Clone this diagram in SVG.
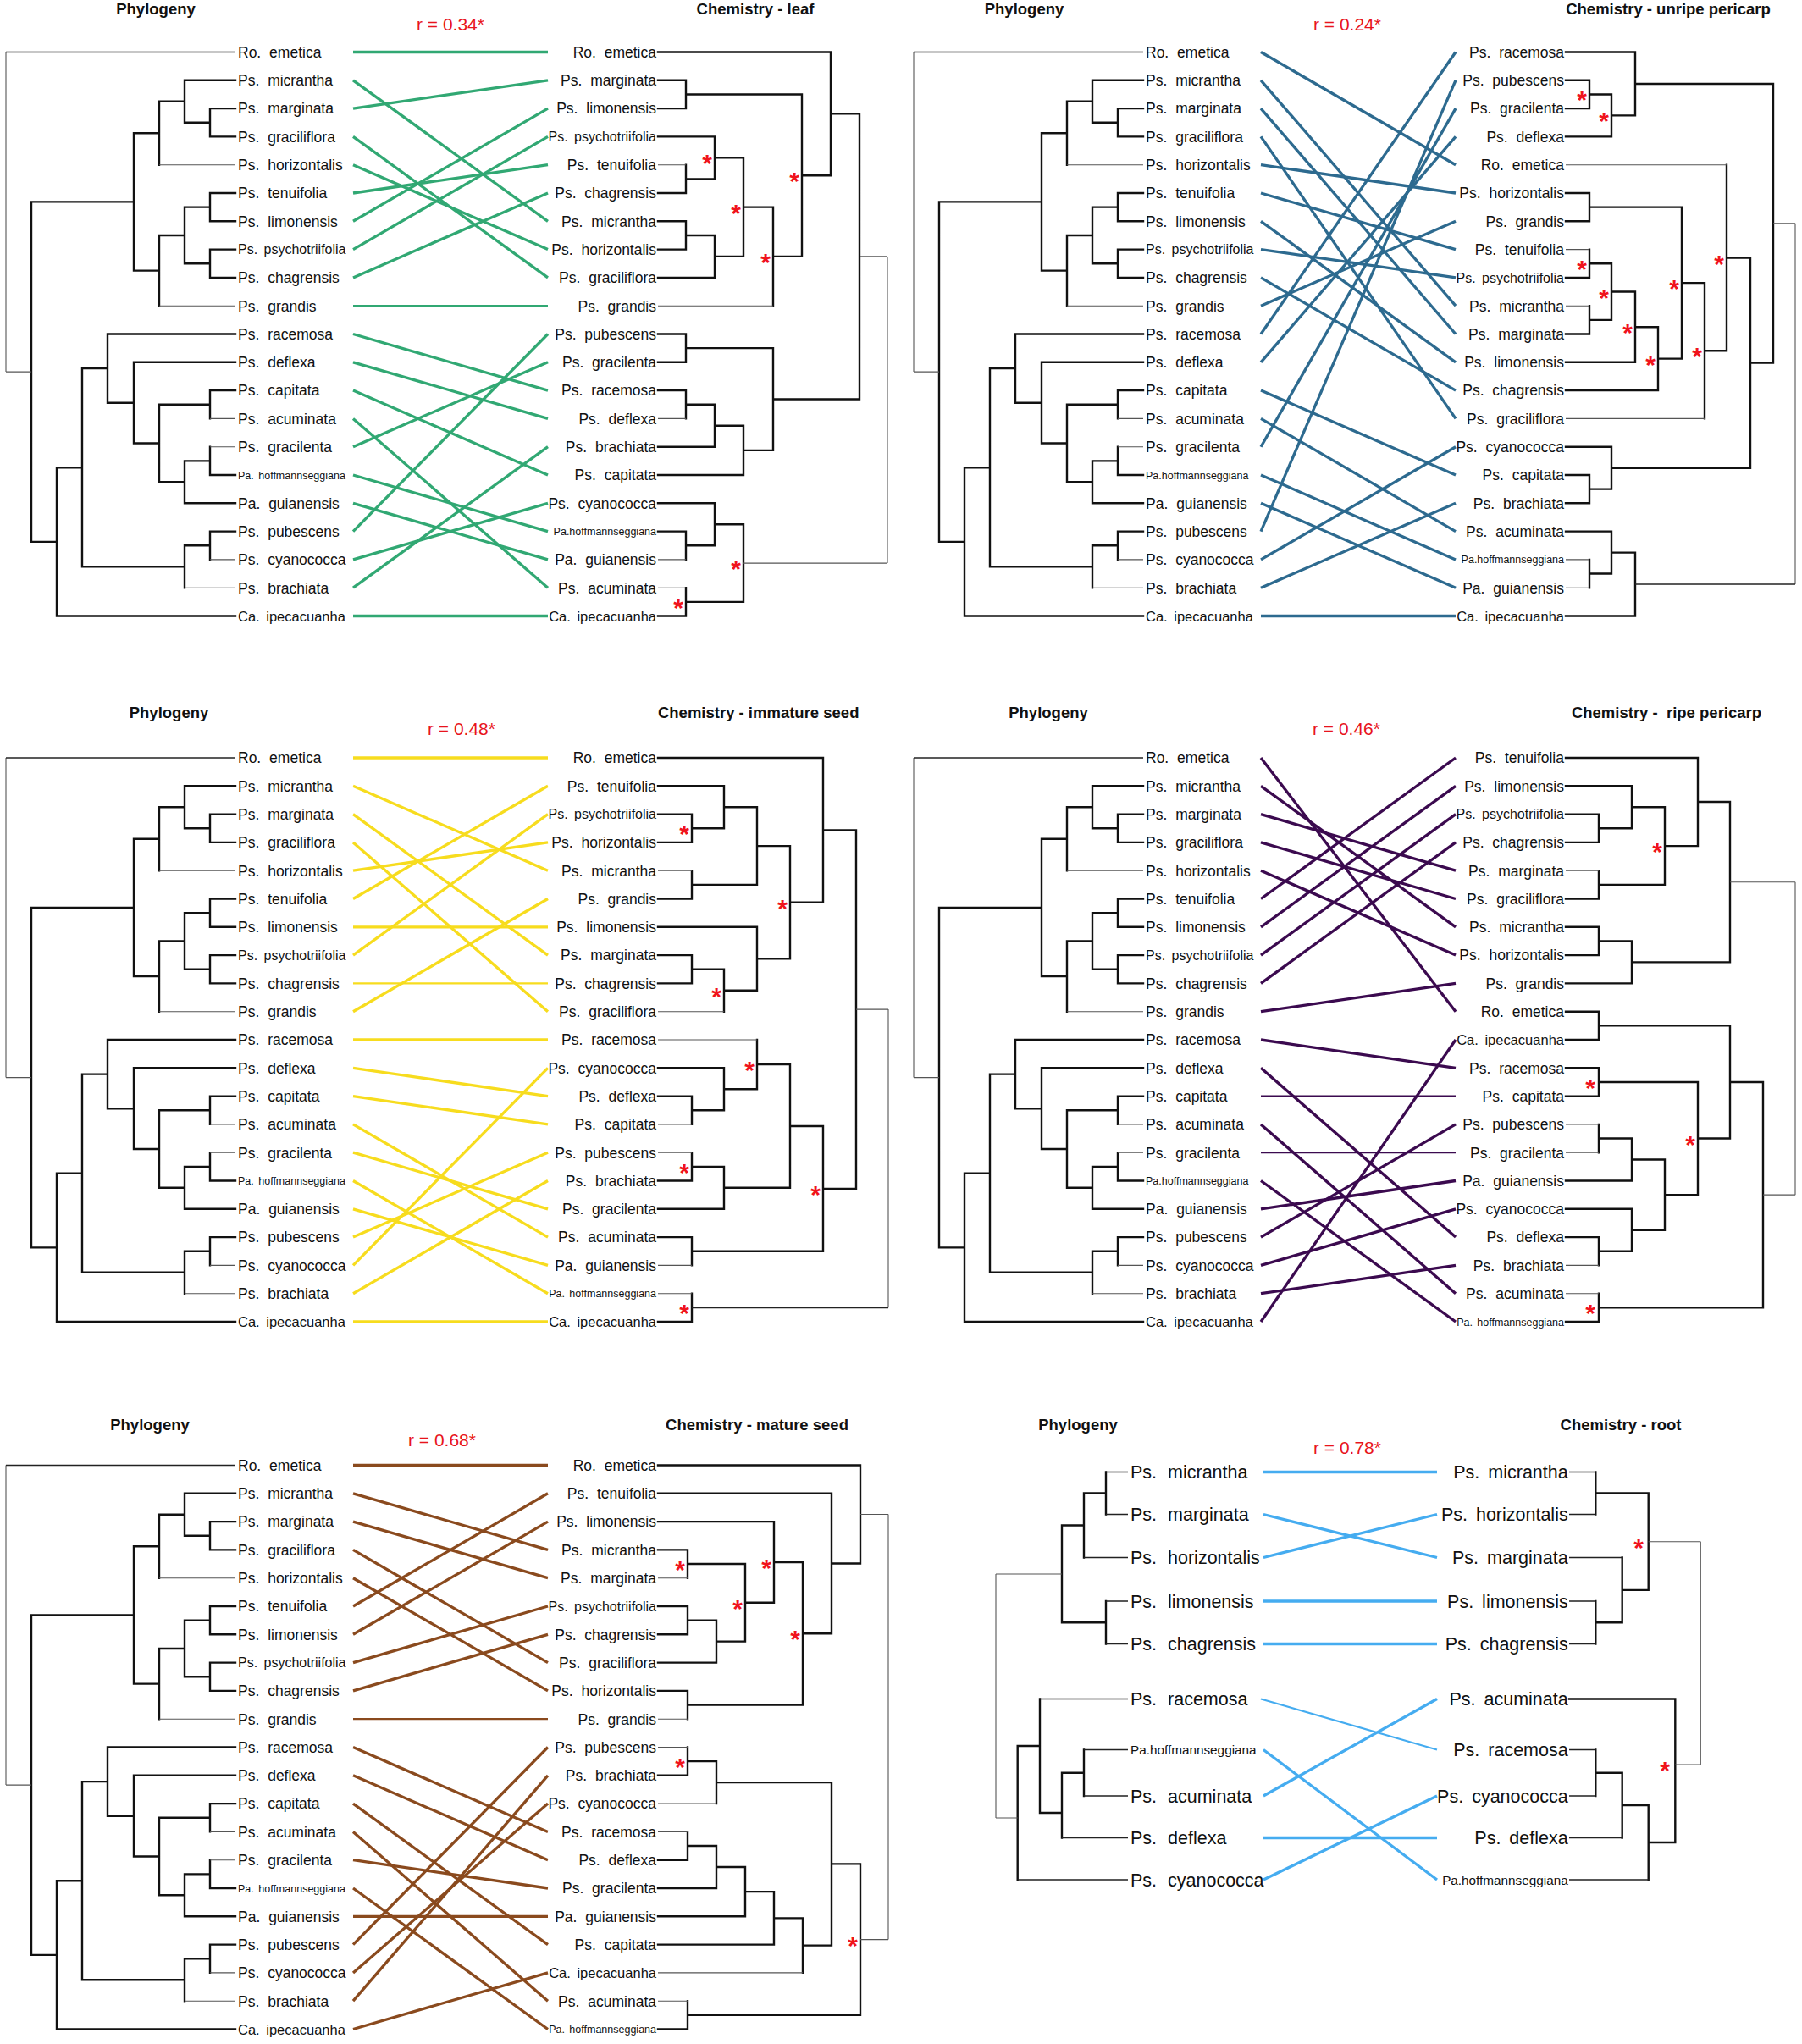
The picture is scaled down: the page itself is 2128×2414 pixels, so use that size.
<svg xmlns="http://www.w3.org/2000/svg" width="2128" height="2414" viewBox="0 0 2128 2414">
<style>
text{font-family:'Liberation Sans',Arial,Helvetica,sans-serif}
.t{font-size:17.5px;fill:#111;word-spacing:5px}
.s{font-size:16px;word-spacing:3px}
.h{font-size:12.5px;word-spacing:2px}
.k{font-size:16.5px;word-spacing:3px}
.e{text-anchor:end}
.t6{font-size:21.5px;fill:#111;word-spacing:7px}
.t6.e{word-spacing:4px}
.h6{font-size:15.3px}
.ttl{font-weight:bold;font-size:18.5px;text-anchor:middle;fill:#111}
.r{font-size:21px;fill:#e8141c;text-anchor:middle}
.st{font-weight:bold;font-size:30px;fill:#f0141c;text-anchor:middle}
.tk{fill:none;stroke:#111;stroke-width:2.4;stroke-linecap:square}
.md{fill:none;stroke:#222;stroke-width:1.7}
.tn{fill:none;stroke:#555;stroke-width:1.1}
.c{fill:none;stroke-width:3.3}
.c path.n{stroke-width:2.2}
</style>
<defs>
<g id="phylo">
<path class="tk" d="M37,238.4V639.85 M37,238.4H158 M158,157.2V319.6 M158,157.2H188 M188,119.8V194.7 M188,119.8H218 M218,94.8V144.75 M218,94.8H278 M218,144.75H248 M248,128.1V161.4 M248,128.1H278 M248,161.4H278 M158,319.6H188 M188,277.95V361.2 M188,277.95H218 M218,244.65V311.25 M218,244.65H248 M248,228V261.3 M248,228H278 M248,261.3H278 M218,311.25H248 M248,294.6V327.9 M248,294.6H278 M248,327.9H278 M37,639.85H67 M67,552.2V727.5 M67,727.5H278 M67,552.2H97 M97,435.1V669.2 M97,669.2H218 M218,644.25V694.2 M218,644.25H248 M248,627.6V660.9 M248,627.6H278 M97,435.1H127 M127,394.5V475.7 M127,394.5H278 M127,475.7H158 M158,427.8V523.5 M158,427.8H278 M158,523.5H188 M188,477.75V569.3 M188,477.75H248 M248,461.1V494.4 M248,461.1H278 M188,569.3H218 M218,544.35V594.3 M218,544.35H248 M248,527.7V561 M248,561H278 M218,594.3H278"/>
<path class="tn" d="M7,61.5V439.1 M7,439.1H37 M188,194.7H278 M188,361.2H278 M248,494.4H278 M248,527.7H278 M248,660.9H278 M218,694.2H278"/>
<path class="md" d="M7,61.5H278"/>
</g>
</defs>
<rect width="2128" height="2414" fill="#fff"/>

<!-- Panel 1: leaf -->
<g id="panel-leaf">
<text class="ttl" x="184" y="16.5">Phylogeny</text>
<text class="r" x="532" y="36">r = 0.34*</text>
<text class="ttl" x="892" y="16.5">Chemistry - leaf</text>
<use href="#phylo"/>
<g id="leaf-phylo-tips" class="t">
<text x="281" y="67.8">Ro. emetica</text>
<text x="281" y="101.1">Ps. micrantha</text>
<text x="281" y="134.4">Ps. marginata</text>
<text x="281" y="167.7">Ps. graciliflora</text>
<text x="281" y="201">Ps. horizontalis</text>
<text x="281" y="234.3">Ps. tenuifolia</text>
<text x="281" y="267.6">Ps. limonensis</text>
<text x="281" y="300.4" class="s">Ps. psychotriifolia</text>
<text x="281" y="334.2">Ps. chagrensis</text>
<text x="281" y="367.5">Ps. grandis</text>
<text x="281" y="400.8">Ps. racemosa</text>
<text x="281" y="434.1">Ps. deflexa</text>
<text x="281" y="467.4">Ps. capitata</text>
<text x="281" y="500.7">Ps. acuminata</text>
<text x="281" y="534">Ps. gracilenta</text>
<text x="281" y="565.5" class="h">Pa. hoffmannseggiana</text>
<text x="281" y="600.6">Pa. guianensis</text>
<text x="281" y="633.9">Ps. pubescens</text>
<text x="281" y="667.2">Ps. cyanococca</text>
<text x="281" y="700.5">Ps. brachiata</text>
<text x="281" y="733.5" class="k">Ca. ipecacuanha</text>
</g>
<g id="leaf-connectors" class="c" stroke="#31a873">
<path d="M417 61.5L647 61.5"/><path d="M417 94.8L647 261.3"/><path d="M417 128.1L647 94.8"/><path d="M417 161.4L647 327.9"/><path d="M417 194.7L647 294.6"/><path d="M417 228L647 194.7"/><path d="M417 261.3L647 128.1"/><path d="M417 294.6L647 161.4"/><path d="M417 327.9L647 228"/><path class="n" d="M417 361.2L647 361.2"/><path d="M417 394.5L647 461.1"/><path d="M417 427.8L647 494.4"/><path d="M417 461.1L647 561"/><path d="M417 494.4L647 694.2"/><path d="M417 527.7L647 427.8"/><path d="M417 561L647 627.6"/><path d="M417 594.3L647 660.9"/><path d="M417 627.6L647 394.5"/><path d="M417 660.9L647 594.3"/><path d="M417 694.2L647 527.7"/><path d="M417 727.5L647 727.5"/>
</g>
<g id="leaf-chem-tree">
<path class="tk" d="M777,94.8H810 M777,128.1H810 M810,94.8V128.1 M810,111.45H947 M777,161.4H844 M777,228H810 M810,194.7V228 M810,211.35H844 M844,161.4V211.35 M844,186.4H878 M777,261.3H810 M777,294.6H810 M810,261.3V294.6 M810,277.95H844 M777,327.9H844 M844,277.95V327.9 M844,302.9H878 M878,186.4V302.9 M878,244.65H913 M913,244.65V361.2 M913,302.9H947 M947,111.45V302.9 M947,207.2H981 M777,61.5H981 M981,61.5V207.2 M981,134.35H1015 M1015,134.35V471.5 M777,394.5H810 M777,427.8H810 M810,394.5V427.8 M810,411.15H913 M777,461.1H810 M810,461.1V494.4 M810,477.75H844 M777,527.7H844 M844,477.75V527.7 M844,502.7H878 M777,561H878 M878,502.7V561 M878,531.85H913 M913,411.15V531.85 M913,471.5H1015 M777,594.3H844 M777,627.6H810 M810,627.6V660.9 M810,644.25H844 M844,594.3V644.25 M844,619.3H878 M777,727.5H810 M810,694.2V727.5 M810,710.85H878 M878,619.3V710.85"/>
<path class="tn" d="M777,194.7H810 M777,361.2H913 M777,494.4H810 M777,660.9H810 M777,694.2H810 M1015,302.9H1048 M1048,302.9V665.1 M878,665.1H1048"/>
<g class="t e">
<text x="775" y="67.8">Ro. emetica</text>
<text x="775" y="101.1">Ps. marginata</text>
<text x="775" y="134.4">Ps. limonensis</text>
<text x="775" y="167.2" class="s">Ps. psychotriifolia</text>
<text x="775" y="201">Ps. tenuifolia</text>
<text x="775" y="234.3">Ps. chagrensis</text>
<text x="775" y="267.6">Ps. micrantha</text>
<text x="775" y="300.9">Ps. horizontalis</text>
<text x="775" y="334.2">Ps. graciliflora</text>
<text x="775" y="367.5">Ps. grandis</text>
<text x="775" y="400.8">Ps. pubescens</text>
<text x="775" y="434.1">Ps. gracilenta</text>
<text x="775" y="467.4">Ps. racemosa</text>
<text x="775" y="500.7">Ps. deflexa</text>
<text x="775" y="534">Ps. brachiata</text>
<text x="775" y="567.3">Ps. capitata</text>
<text x="775" y="600.6">Ps. cyanococca</text>
<text x="775" y="632.1" class="h">Pa.hoffmannseggiana</text>
<text x="775" y="667.2">Pa. guianensis</text>
<text x="775" y="700.5">Ps. acuminata</text>
<text x="775" y="733.5" class="k">Ca. ipecacuanha</text>
</g>
<g class="st"><text x="835" y="203.4">*</text><text x="869" y="261.65">*</text><text x="938" y="224.2">*</text><text x="904" y="319.9">*</text><text x="801" y="727.85">*</text><text x="869" y="682.1">*</text></g>
</g>
</g>

<!-- Panel 2: unripe pericarp -->
<g id="panel-unripe-pericarp" transform="translate(1072,0)">
<text class="ttl" x="137.5" y="16.5">Phylogeny</text>
<text class="r" x="519" y="36">r = 0.24*</text>
<text class="ttl" x="898" y="16.5">Chemistry - unripe pericarp</text>
<use href="#phylo"/>
<g id="unripe-phylo-tips" class="t">
<text x="281" y="67.8">Ro. emetica</text>
<text x="281" y="101.1">Ps. micrantha</text>
<text x="281" y="134.4">Ps. marginata</text>
<text x="281" y="167.7">Ps. graciliflora</text>
<text x="281" y="201">Ps. horizontalis</text>
<text x="281" y="234.3">Ps. tenuifolia</text>
<text x="281" y="267.6">Ps. limonensis</text>
<text x="281" y="300.4" class="s">Ps. psychotriifolia</text>
<text x="281" y="334.2">Ps. chagrensis</text>
<text x="281" y="367.5">Ps. grandis</text>
<text x="281" y="400.8">Ps. racemosa</text>
<text x="281" y="434.1">Ps. deflexa</text>
<text x="281" y="467.4">Ps. capitata</text>
<text x="281" y="500.7">Ps. acuminata</text>
<text x="281" y="534">Ps. gracilenta</text>
<text x="281" y="565.5" class="h">Pa.hoffmannseggiana</text>
<text x="281" y="600.6">Pa. guianensis</text>
<text x="281" y="633.9">Ps. pubescens</text>
<text x="281" y="667.2">Ps. cyanococca</text>
<text x="281" y="700.5">Ps. brachiata</text>
<text x="281" y="733.5" class="k">Ca. ipecacuanha</text>
</g>
<g id="unripe-connectors" class="c" stroke="#2d6a8f">
<path d="M417 61.5L647 194.7"/><path d="M417 94.8L647 361.2"/><path d="M417 128.1L647 394.5"/><path d="M417 161.4L647 494.4"/><path d="M417 194.7L647 228"/><path d="M417 228L647 294.6"/><path d="M417 261.3L647 427.8"/><path d="M417 294.6L647 327.9"/><path d="M417 327.9L647 461.1"/><path d="M417 361.2L647 261.3"/><path d="M417 394.5L647 61.5"/><path d="M417 427.8L647 161.4"/><path d="M417 461.1L647 561"/><path d="M417 494.4L647 627.6"/><path d="M417 527.7L647 128.1"/><path d="M417 561L647 660.9"/><path d="M417 594.3L647 694.2"/><path d="M417 627.6L647 94.8"/><path d="M417 660.9L647 527.7"/><path d="M417 694.2L647 594.3"/><path d="M417 727.5L647 727.5"/>
</g>
<g id="unripe-chem-tree">
<path class="tk" d="M777,94.8H805 M777,128.1H805 M805,94.8V128.1 M805,111.45H831 M777,161.4H831 M831,111.45V161.4 M831,136.4H859 M777,61.5H859 M859,61.5V136.4 M859,98.95H1022 M777,228H805 M777,261.3H805 M805,228V261.3 M805,244.65H914 M777,327.9H805 M805,294.6V327.9 M805,311.25H831 M777,394.5H805 M805,361.2V394.5 M805,377.85H831 M831,311.25V377.85 M831,344.55H859 M777,427.8H859 M859,344.55V427.8 M859,386.2H886 M777,461.1H886 M886,386.2V461.1 M886,423.65H914 M914,244.65V423.65 M914,334.15H941 M941,334.15V494.4 M941,414.3H967 M967,194.7V414.3 M967,304.5H995 M777,527.7H831 M777,561H805 M777,594.3H805 M805,561V594.3 M805,577.65H831 M831,527.7V577.65 M831,552.7H995 M995,304.5V552.7 M995,428.6H1022 M1022,98.95V428.6 M777,627.6H831 M805,660.9V694.2 M805,677.55H831 M831,627.6V677.55 M831,652.6H859 M777,727.5H859 M859,652.6V727.5"/>
<path class="tn" d="M777,294.6H805 M777,361.2H805 M777,494.4H941 M777,194.7H967 M777,660.9H805 M777,694.2H805 M1022,263.8H1048 M1048,263.8V690"/>
<path class="md" d="M859,690H1048"/>
<g class="t e">
<text x="775" y="67.8">Ps. racemosa</text>
<text x="775" y="101.1">Ps. pubescens</text>
<text x="775" y="134.4">Ps. gracilenta</text>
<text x="775" y="167.7">Ps. deflexa</text>
<text x="775" y="201">Ro. emetica</text>
<text x="775" y="234.3">Ps. horizontalis</text>
<text x="775" y="267.6">Ps. grandis</text>
<text x="775" y="300.9">Ps. tenuifolia</text>
<text x="775" y="333.7" class="s">Ps. psychotriifolia</text>
<text x="775" y="367.5">Ps. micrantha</text>
<text x="775" y="400.8">Ps. marginata</text>
<text x="775" y="434.1">Ps. limonensis</text>
<text x="775" y="467.4">Ps. chagrensis</text>
<text x="775" y="500.7">Ps. graciliflora</text>
<text x="775" y="534">Ps. cyanococca</text>
<text x="775" y="567.3">Ps. capitata</text>
<text x="775" y="600.6">Ps. brachiata</text>
<text x="775" y="633.9">Ps. acuminata</text>
<text x="775" y="665.4" class="h">Pa.hoffmannseggiana</text>
<text x="775" y="700.5">Pa. guianensis</text>
<text x="775" y="733.5" class="k">Ca. ipecacuanha</text>
</g>
<g class="st"><text x="796" y="128.45">*</text><text x="822" y="153.4">*</text><text x="796" y="328.25">*</text><text x="822" y="361.55">*</text><text x="850" y="403.2">*</text><text x="877" y="440.65">*</text><text x="905" y="351.15">*</text><text x="932" y="431.3">*</text><text x="958" y="321.5">*</text></g>
</g>
</g>

<!-- Panel 3: immature seed -->
<g id="panel-immature-seed" transform="translate(0,833.5)">
<text class="ttl" x="199.5" y="14.5">Phylogeny</text>
<text class="r" x="545" y="34.5">r = 0.48*</text>
<text class="ttl" x="895.7" y="14.5">Chemistry - immature seed</text>
<use href="#phylo"/>
<g id="immature-phylo-tips" class="t">
<text x="281" y="67.8">Ro. emetica</text>
<text x="281" y="101.1">Ps. micrantha</text>
<text x="281" y="134.4">Ps. marginata</text>
<text x="281" y="167.7">Ps. graciliflora</text>
<text x="281" y="201">Ps. horizontalis</text>
<text x="281" y="234.3">Ps. tenuifolia</text>
<text x="281" y="267.6">Ps. limonensis</text>
<text x="281" y="300.4" class="s">Ps. psychotriifolia</text>
<text x="281" y="334.2">Ps. chagrensis</text>
<text x="281" y="367.5">Ps. grandis</text>
<text x="281" y="400.8">Ps. racemosa</text>
<text x="281" y="434.1">Ps. deflexa</text>
<text x="281" y="467.4">Ps. capitata</text>
<text x="281" y="500.7">Ps. acuminata</text>
<text x="281" y="534">Ps. gracilenta</text>
<text x="281" y="565.5" class="h">Pa. hoffmannseggiana</text>
<text x="281" y="600.6">Pa. guianensis</text>
<text x="281" y="633.9">Ps. pubescens</text>
<text x="281" y="667.2">Ps. cyanococca</text>
<text x="281" y="700.5">Ps. brachiata</text>
<text x="281" y="733.5" class="k">Ca. ipecacuanha</text>
</g>
<g id="immature-connectors" class="c" stroke="#f7dc1e">
<path d="M417 61.5L647 61.5"/><path d="M417 94.8L647 194.7"/><path d="M417 128.1L647 294.6"/><path d="M417 161.4L647 361.2"/><path d="M417 194.7L647 161.4"/><path d="M417 228L647 94.8"/><path d="M417 261.3L647 261.3"/><path d="M417 294.6L647 128.1"/><path class="n" d="M417 327.9L647 327.9"/><path d="M417 361.2L647 228"/><path d="M417 394.5L647 394.5"/><path d="M417 427.8L647 461.1"/><path d="M417 461.1L647 494.4"/><path d="M417 494.4L647 627.6"/><path d="M417 527.7L647 594.3"/><path d="M417 561L647 694.2"/><path d="M417 594.3L647 660.9"/><path d="M417 627.6L647 527.7"/><path d="M417 660.9L647 427.8"/><path d="M417 694.2L647 561"/><path d="M417 727.5L647 727.5"/>
</g>
<g id="immature-chem-tree">
<path class="tk" d="M777,128.1H817 M777,161.4H817 M817,128.1V161.4 M817,144.75H855 M777,94.8H855 M855,94.8V144.75 M855,119.8H894 M777,228H817 M817,194.7V228 M817,211.35H894 M894,119.8V211.35 M894,165.6H933 M777,294.6H817 M777,327.9H817 M817,294.6V327.9 M817,311.25H855 M855,311.25V361.2 M855,336.2H894 M777,261.3H894 M894,261.3V336.2 M894,298.75H933 M933,165.6V298.75 M933,232.2H972 M777,61.5H972 M972,61.5V232.2 M972,146.85H1011 M1011,146.85V570.4 M777,461.1H817 M817,461.1V494.4 M817,477.75H855 M777,427.8H855 M855,427.8V477.75 M855,452.8H894 M894,394.5V452.8 M894,423.65H933 M777,561H817 M817,527.7V561 M817,544.35H855 M777,594.3H855 M855,544.35V594.3 M855,569.3H933 M933,423.65V569.3 M933,496.5H972 M777,627.6H817 M817,627.6V660.9 M817,644.25H972 M972,496.5V644.25 M972,570.4H1011 M777,727.5H817 M817,694.2V727.5"/>
<path class="tn" d="M777,194.7H817 M777,361.2H855 M777,494.4H817 M777,394.5H894 M777,527.7H817 M777,660.9H817 M777,694.2H817 M1011,358.6H1049 M1049,358.6V710.85"/>
<path class="md" d="M817,710.85H1049"/>
<g class="t e">
<text x="775" y="67.8">Ro. emetica</text>
<text x="775" y="101.1">Ps. tenuifolia</text>
<text x="775" y="133.9" class="s">Ps. psychotriifolia</text>
<text x="775" y="167.7">Ps. horizontalis</text>
<text x="775" y="201">Ps. micrantha</text>
<text x="775" y="234.3">Ps. grandis</text>
<text x="775" y="267.6">Ps. limonensis</text>
<text x="775" y="300.9">Ps. marginata</text>
<text x="775" y="334.2">Ps. chagrensis</text>
<text x="775" y="367.5">Ps. graciliflora</text>
<text x="775" y="400.8">Ps. racemosa</text>
<text x="775" y="434.1">Ps. cyanococca</text>
<text x="775" y="467.4">Ps. deflexa</text>
<text x="775" y="500.7">Ps. capitata</text>
<text x="775" y="534">Ps. pubescens</text>
<text x="775" y="567.3">Ps. brachiata</text>
<text x="775" y="600.6">Ps. gracilenta</text>
<text x="775" y="633.9">Ps. acuminata</text>
<text x="775" y="667.2">Pa. guianensis</text>
<text x="775" y="698.7" class="h">Pa. hoffmannseggiana</text>
<text x="775" y="733.5" class="k">Ca. ipecacuanha</text>
</g>
<g class="st"><text x="808" y="161.75">*</text><text x="846" y="353.2">*</text><text x="924" y="249.2">*</text><text x="885" y="440.65">*</text><text x="808" y="561.35">*</text><text x="963" y="587.4">*</text><text x="808" y="727.85">*</text></g>
</g>
</g>

<!-- Panel 4: ripe pericarp -->
<g id="panel-ripe-pericarp" transform="translate(1072,833.5)">
<text class="ttl" x="166" y="14.5">Phylogeny</text>
<text class="r" x="518" y="34.5">r = 0.46*</text>
<text class="ttl" x="896" y="14.5">Chemistry - &#160;ripe pericarp</text>
<use href="#phylo"/>
<g id="ripe-phylo-tips" class="t">
<text x="281" y="67.8">Ro. emetica</text>
<text x="281" y="101.1">Ps. micrantha</text>
<text x="281" y="134.4">Ps. marginata</text>
<text x="281" y="167.7">Ps. graciliflora</text>
<text x="281" y="201">Ps. horizontalis</text>
<text x="281" y="234.3">Ps. tenuifolia</text>
<text x="281" y="267.6">Ps. limonensis</text>
<text x="281" y="300.4" class="s">Ps. psychotriifolia</text>
<text x="281" y="334.2">Ps. chagrensis</text>
<text x="281" y="367.5">Ps. grandis</text>
<text x="281" y="400.8">Ps. racemosa</text>
<text x="281" y="434.1">Ps. deflexa</text>
<text x="281" y="467.4">Ps. capitata</text>
<text x="281" y="500.7">Ps. acuminata</text>
<text x="281" y="534">Ps. gracilenta</text>
<text x="281" y="565.5" class="h">Pa.hoffmannseggiana</text>
<text x="281" y="600.6">Pa. guianensis</text>
<text x="281" y="633.9">Ps. pubescens</text>
<text x="281" y="667.2">Ps. cyanococca</text>
<text x="281" y="700.5">Ps. brachiata</text>
<text x="281" y="733.5" class="k">Ca. ipecacuanha</text>
</g>
<g id="ripe-connectors" class="c" stroke="#3b0a4f">
<path d="M417 61.5L647 361.2"/><path d="M417 94.8L647 261.3"/><path d="M417 128.1L647 194.7"/><path d="M417 161.4L647 228"/><path d="M417 194.7L647 294.6"/><path d="M417 228L647 61.5"/><path d="M417 261.3L647 94.8"/><path d="M417 294.6L647 128.1"/><path d="M417 327.9L647 161.4"/><path d="M417 361.2L647 327.9"/><path d="M417 394.5L647 427.8"/><path d="M417 427.8L647 627.6"/><path class="n" d="M417 461.1L647 461.1"/><path d="M417 494.4L647 694.2"/><path class="n" d="M417 527.7L647 527.7"/><path d="M417 561L647 727.5"/><path d="M417 594.3L647 561"/><path d="M417 627.6L647 494.4"/><path d="M417 660.9L647 594.3"/><path d="M417 694.2L647 660.9"/><path d="M417 727.5L647 394.5"/>
</g>
<g id="ripe-chem-tree">
<path class="tk" d="M777,128.1H816 M777,161.4H816 M816,128.1V161.4 M816,144.75H855 M777,94.8H855 M855,94.8V144.75 M855,119.8H894 M777,228H816 M816,194.7V228 M816,211.35H894 M894,119.8V211.35 M894,165.6H933 M777,61.5H933 M933,61.5V165.6 M933,113.5H971 M777,261.3H816 M777,294.6H816 M816,261.3V294.6 M816,277.95H855 M777,327.9H855 M855,277.95V327.9 M855,302.9H971 M971,113.5V302.9 M777,361.2H816 M777,394.5H816 M816,361.2V394.5 M816,377.85H971 M777,427.8H816 M777,461.1H816 M816,427.8V461.1 M816,444.45H933 M816,494.4V527.7 M816,511.05H855 M777,561H855 M855,511.05V561 M855,536H894 M777,594.3H855 M777,627.6H816 M816,627.6V660.9 M816,644.25H855 M855,594.3V644.25 M855,619.3H894 M894,536V619.3 M894,577.65H933 M933,444.45V577.65 M933,511.05H971 M971,377.85V511.05 M971,444.45H1010 M777,727.5H816 M816,694.2V727.5 M816,710.85H1010 M1010,444.45V710.85"/>
<path class="tn" d="M777,194.7H816 M777,494.4H816 M777,527.7H816 M777,660.9H816 M777,694.2H816 M971,208.2H1048 M1010,577.65H1048 M1048,208.2V577.65"/>
<g class="t e">
<text x="775" y="67.8">Ps. tenuifolia</text>
<text x="775" y="101.1">Ps. limonensis</text>
<text x="775" y="133.9" class="s">Ps. psychotriifolia</text>
<text x="775" y="167.7">Ps. chagrensis</text>
<text x="775" y="201">Ps. marginata</text>
<text x="775" y="234.3">Ps. graciliflora</text>
<text x="775" y="267.6">Ps. micrantha</text>
<text x="775" y="300.9">Ps. horizontalis</text>
<text x="775" y="334.2">Ps. grandis</text>
<text x="775" y="367.5">Ro. emetica</text>
<text x="775" y="400.5" class="k">Ca. ipecacuanha</text>
<text x="775" y="434.1">Ps. racemosa</text>
<text x="775" y="467.4">Ps. capitata</text>
<text x="775" y="500.7">Ps. pubescens</text>
<text x="775" y="534">Ps. gracilenta</text>
<text x="775" y="567.3">Pa. guianensis</text>
<text x="775" y="600.6">Ps. cyanococca</text>
<text x="775" y="633.9">Ps. deflexa</text>
<text x="775" y="667.2">Ps. brachiata</text>
<text x="775" y="700.5">Ps. acuminata</text>
<text x="775" y="732" class="h">Pa. hoffmannseggiana</text>
</g>
<g class="st"><text x="885" y="182.6">*</text><text x="806" y="461.45">*</text><text x="924" y="528.05">*</text><text x="806" y="727.85">*</text></g>
</g>
</g>

<!-- Panel 5: mature seed -->
<g id="panel-mature-seed" transform="translate(0,1669)">
<text class="ttl" x="177" y="19.6">Phylogeny</text>
<text class="r" x="522" y="39">r = 0.68*</text>
<text class="ttl" x="894" y="19.6">Chemistry - mature seed</text>
<use href="#phylo"/>
<g id="mature-phylo-tips" class="t">
<text x="281" y="67.8">Ro. emetica</text>
<text x="281" y="101.1">Ps. micrantha</text>
<text x="281" y="134.4">Ps. marginata</text>
<text x="281" y="167.7">Ps. graciliflora</text>
<text x="281" y="201">Ps. horizontalis</text>
<text x="281" y="234.3">Ps. tenuifolia</text>
<text x="281" y="267.6">Ps. limonensis</text>
<text x="281" y="300.4" class="s">Ps. psychotriifolia</text>
<text x="281" y="334.2">Ps. chagrensis</text>
<text x="281" y="367.5">Ps. grandis</text>
<text x="281" y="400.8">Ps. racemosa</text>
<text x="281" y="434.1">Ps. deflexa</text>
<text x="281" y="467.4">Ps. capitata</text>
<text x="281" y="500.7">Ps. acuminata</text>
<text x="281" y="534">Ps. gracilenta</text>
<text x="281" y="565.5" class="h">Pa. hoffmannseggiana</text>
<text x="281" y="600.6">Pa. guianensis</text>
<text x="281" y="633.9">Ps. pubescens</text>
<text x="281" y="667.2">Ps. cyanococca</text>
<text x="281" y="700.5">Ps. brachiata</text>
<text x="281" y="733.5" class="k">Ca. ipecacuanha</text>
</g>
<g id="mature-connectors" class="c" stroke="#8a4a1e">
<path d="M417 61.5L647 61.5"/><path d="M417 94.8L647 161.4"/><path d="M417 128.1L647 194.7"/><path d="M417 161.4L647 294.6"/><path d="M417 194.7L647 327.9"/><path d="M417 228L647 94.8"/><path d="M417 261.3L647 128.1"/><path d="M417 294.6L647 228"/><path d="M417 327.9L647 261.3"/><path class="n" d="M417 361.2L647 361.2"/><path d="M417 394.5L647 494.4"/><path d="M417 427.8L647 527.7"/><path d="M417 461.1L647 627.6"/><path d="M417 494.4L647 694.2"/><path d="M417 527.7L647 561"/><path d="M417 561L647 727.5"/><path d="M417 594.3L647 594.3"/><path d="M417 627.6L647 394.5"/><path d="M417 660.9L647 461.1"/><path d="M417 694.2L647 427.8"/><path d="M417 727.5L647 660.9"/>
</g>
<g id="mature-chem-tree">
<path class="tk" d="M777,161.4H812 M812,161.4V194.7 M812,178.05H880 M777,228H812 M777,261.3H812 M812,228V261.3 M812,244.65H846 M777,294.6H846 M846,244.65V294.6 M846,269.6H880 M880,178.05V269.6 M880,223.8H914 M777,128.1H914 M914,128.1V223.8 M914,176H948 M777,327.9H812 M812,327.9V361.2 M812,344.55H948 M948,176V344.55 M948,260.3H982 M777,94.8H982 M982,94.8V260.3 M982,177.55H1016 M777,61.5H1016 M1016,61.5V177.55 M777,427.8H812 M812,394.5V427.8 M812,411.15H846 M846,411.15V461.1 M846,436.1H982 M777,527.7H812 M812,494.4V527.7 M812,511.05H846 M777,561H846 M846,511.05V561 M846,536H880 M777,594.3H880 M880,536V594.3 M880,565.15H914 M777,627.6H914 M914,565.15V627.6 M914,596.4H948 M948,596.4V660.9 M948,628.65H982 M982,436.1V628.65 M982,532.4H1016 M777,727.5H812 M812,694.2V727.5 M812,710.85H1016 M1016,532.4V710.85"/>
<path class="tn" d="M777,194.7H812 M777,361.2H812 M777,394.5H812 M777,461.1H846 M777,494.4H812 M777,660.9H948 M777,694.2H812 M1016,119.5H1049 M1016,621.6H1049 M1049,119.5V621.6"/>
<g class="t e">
<text x="775" y="67.8">Ro. emetica</text>
<text x="775" y="101.1">Ps. tenuifolia</text>
<text x="775" y="134.4">Ps. limonensis</text>
<text x="775" y="167.7">Ps. micrantha</text>
<text x="775" y="201">Ps. marginata</text>
<text x="775" y="233.8" class="s">Ps. psychotriifolia</text>
<text x="775" y="267.6">Ps. chagrensis</text>
<text x="775" y="300.9">Ps. graciliflora</text>
<text x="775" y="334.2">Ps. horizontalis</text>
<text x="775" y="367.5">Ps. grandis</text>
<text x="775" y="400.8">Ps. pubescens</text>
<text x="775" y="434.1">Ps. brachiata</text>
<text x="775" y="467.4">Ps. cyanococca</text>
<text x="775" y="500.7">Ps. racemosa</text>
<text x="775" y="534">Ps. deflexa</text>
<text x="775" y="567.3">Ps. gracilenta</text>
<text x="775" y="600.6">Pa. guianensis</text>
<text x="775" y="633.9">Ps. capitata</text>
<text x="775" y="666.9" class="k">Ca. ipecacuanha</text>
<text x="775" y="700.5">Ps. acuminata</text>
<text x="775" y="732" class="h">Pa. hoffmannseggiana</text>
</g>
<g class="st"><text x="803" y="195.05">*</text><text x="871" y="240.8">*</text><text x="905" y="193">*</text><text x="939" y="277.3">*</text><text x="803" y="428.15">*</text><text x="1007" y="638.6">*</text></g>
</g>
</g>

<!-- Panel 6: root -->
<g id="panel-root">
<text class="ttl" x="1273" y="1689">Phylogeny</text>
<text class="r" x="1591" y="1717">r = 0.78*</text>
<text class="ttl" x="1914" y="1689">Chemistry - root</text>
<g id="root-phylo-tree">
<path class="tk" d="M1306,1738.5V1788.5 M1280,1763.5H1306 M1280,1763.5V1839.5 M1254,1801.5H1280 M1306,1891V1941.5 M1254,1916.25H1306 M1254,1801.5V1916.25 M1280,2066.5V2121 M1254,2093.75H1280 M1254,2093.75V2170.5 M1228,2141H1254 M1228,2006.5V2141 M1201.7,2062H1228 M1201.7,2062V2220"/>
<path class="md" d="M1306,1738.5H1332 M1306,1788.5H1332 M1280,1839.5H1332 M1306,1891H1332 M1306,1941.5H1332 M1228,2006.5H1332 M1280,2066.5H1332 M1280,2121H1332 M1254,2170.5H1332 M1201.7,2220H1332"/>
<path class="tn" d="M1176,1859H1254 M1176,2147H1201.7 M1176,1859V2147"/>
<g class="t6">
<text x="1335" y="1746.2">Ps. micrantha</text>
<text x="1335" y="1796.2">Ps. marginata</text>
<text x="1335" y="1847.2">Ps. horizontalis</text>
<text x="1335" y="1898.7">Ps. limonensis</text>
<text x="1335" y="1949.2">Ps. chagrensis</text>
<text x="1335" y="2014.2">Ps. racemosa</text>
<text x="1335" y="2072" class="h6">Pa.hoffmannseggiana</text>
<text x="1335" y="2128.7">Ps. acuminata</text>
<text x="1335" y="2178.2">Ps. deflexa</text>
<text x="1335" y="2227.7">Ps. cyanococca</text>
</g>
</g>
<g id="root-connectors" class="c" stroke="#45acf0" stroke-width="3">
<path d="M1492 1738.5L1697 1738.5"/><path d="M1492 1788.5L1697 1839.5"/><path d="M1492 1839.5L1697 1788.5"/><path d="M1492 1891L1697 1891"/><path d="M1492 1941.5L1697 1941.5"/><path class="n" d="M1489 2006.5L1697 2066.5"/><path d="M1492 2066.5L1697 2220"/><path d="M1492 2121L1697 2006.5"/><path d="M1492 2170.5L1697 2170.5"/><path d="M1492 2220L1697 2121"/>
</g>
<g id="root-chem-tree">
<path class="tk" d="M1884.3,1738.5V1788.5 M1884.3,1763.5H1946.7 M1884.3,1891V1941.5 M1884.3,1916.25H1915.7 M1915.7,1839.5V1916.25 M1915.7,1877.9H1946.7 M1946.7,1763.5V1877.9 M1884.3,2066.5V2121 M1884.3,2093.75H1915.7 M1915.7,2093.75V2170.5 M1915.7,2132H1946.7 M1946.7,2132V2220 M1946.7,2176H1978.3 M1978.3,2006.5V2176 M1853,2006.5H1978.3"/>
<path class="md" d="M1853,1738.5H1884.3 M1853,1788.5H1884.3 M1853,1839.5H1915.7 M1853,1891H1884.3 M1853,1941.5H1884.3 M1853,2066.5H1884.3 M1853,2121H1884.3 M1853,2170.5H1915.7 M1853,2220H1946.7"/>
<path class="tn" d="M1946.7,1820.7H2008.3 M1978.3,2084H2008.3 M2008.3,1820.7V2084"/>
<g class="t6 e">
<text x="1851.7" y="1746.2">Ps. micrantha</text>
<text x="1851.7" y="1796.2">Ps. horizontalis</text>
<text x="1851.7" y="1847.2">Ps. marginata</text>
<text x="1851.7" y="1898.7">Ps. limonensis</text>
<text x="1851.7" y="1949.2">Ps. chagrensis</text>
<text x="1851.7" y="2014.2">Ps. acuminata</text>
<text x="1851.7" y="2074.2">Ps. racemosa</text>
<text x="1851.7" y="2128.7">Ps. cyanococca</text>
<text x="1851.7" y="2178.2">Ps. deflexa</text>
<text x="1851.7" y="2225.5" class="h6">Pa.hoffmannseggiana</text>
</g>
<g class="st"><text x="1935" y="1837.7">*</text><text x="1966" y="2101">*</text></g>
</g>
</g>
</svg>
